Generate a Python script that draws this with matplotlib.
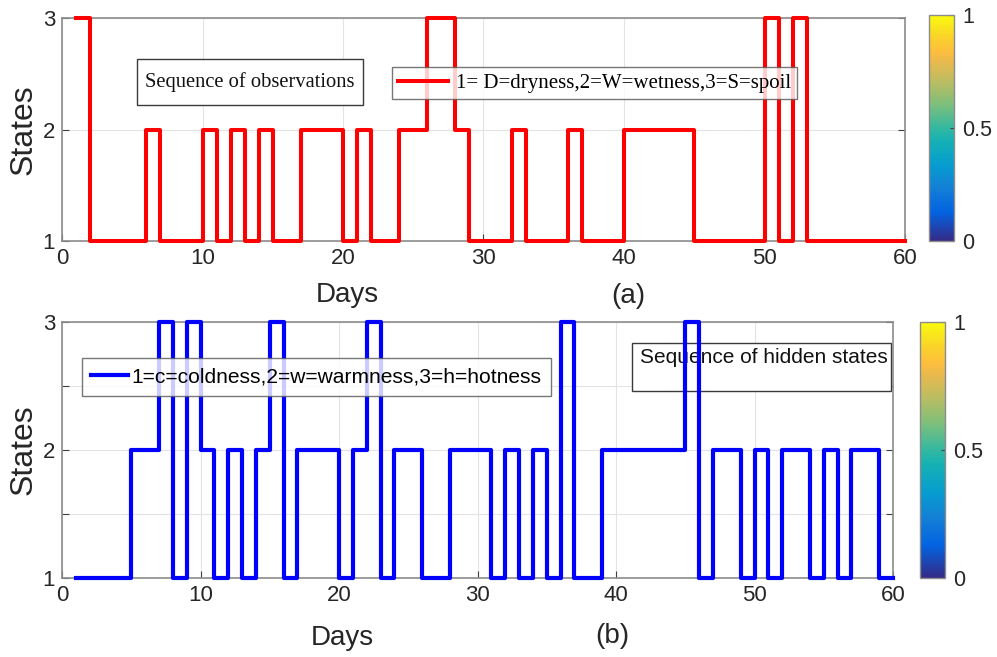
import numpy as np
import matplotlib
matplotlib.use("Agg")
import matplotlib.pyplot as plt
from matplotlib.colors import LinearSegmentedColormap, Normalize
from matplotlib.cm import ScalarMappable
from matplotlib.patches import Rectangle

# ---------------- data ----------------
days = list(range(1, 61))
observations = [3, 1, 1, 1, 1, 2, 1, 1, 1, 2,
                1, 2, 1, 2, 1, 1, 2, 2, 2, 1,
                2, 1, 1, 2, 2, 3, 3, 2, 1, 1,
                1, 2, 1, 1, 1, 2, 1, 1, 1, 2,
                2, 2, 2, 2, 1, 1, 1, 1, 1, 3,
                1, 3, 1, 1, 1, 1, 1, 1, 1, 1]
hidden_states = [1, 1, 1, 1, 2, 2, 3, 1, 3, 2,
                 1, 2, 1, 2, 3, 1, 2, 2, 2, 1,
                 2, 3, 1, 2, 2, 1, 1, 2, 2, 2,
                 1, 2, 1, 2, 1, 3, 1, 1, 2, 2,
                 2, 2, 2, 2, 3, 1, 2, 2, 1, 2,
                 1, 2, 2, 1, 2, 1, 2, 2, 1, 1]
xticks = [0, 10, 20, 30, 40, 50, 60]
obs_legend = "1= D=dryness,2=W=wetness,3=S=spoil"
hid_legend = "1=c=coldness,2=w=warmness,3=h=hotness"
obs_title = "Sequence of observations"
hid_title = "Sequence of hidden states"

parula_pts = [[0.2081, 0.1663, 0.5292], [0.0117, 0.3875, 0.8820],
              [0.0779, 0.5040, 0.8384], [0.0265, 0.6137, 0.8135],
              [0.0843, 0.6928, 0.7062], [0.1801, 0.7177, 0.6424],
              [0.4871, 0.7491, 0.4840], [0.7185, 0.7411, 0.3905],
              [0.9139, 0.7258, 0.3063], [0.9938, 0.7455, 0.2403],
              [0.9789, 0.8271, 0.1633], [0.9763, 0.9831, 0.0538]]
parula_pos = [0, 8, 15, 21, 28, 31, 38, 44, 50, 53, 57, 63]
parula = LinearSegmentedColormap.from_list(
    "parula", list(zip([p / 63 for p in parula_pos], parula_pts)))

# ---------------- styling ----------------
SANS = ['Liberation Sans', 'DejaVu Sans']
SERIF = ['Liberation Serif', 'DejaVu Serif']
spine_c = '#8c8c8c'
grid_c = '#e3e3e3'
txt_c = '#262626'

fig = plt.figure(figsize=(9.97, 6.57), dpi=100)

def style_axes(ax, yt, ylabels):
    ax.set_xlim(0, 60)
    ax.set_ylim(1, 3)
    ax.set_xticks(xticks)
    ax.set_xticklabels([str(t) for t in xticks], family=SANS, fontsize=16, color=txt_c)
    ax.set_yticks(yt)
    ax.set_yticklabels(ylabels, family=SANS, fontsize=16, color=txt_c)
    ax.tick_params(direction='in', length=5, color='#404040', width=0.8, pad=5,
                   top=False, right=True)
    ax.grid(True, color=grid_c, lw=0.8)
    ax.set_axisbelow(True)
    for s in ax.spines.values():
        s.set_color(spine_c)
        s.set_linewidth(1.2)
    ax.set_ylabel("States", family=SANS, fontsize=23, color=txt_c, labelpad=3)

def title_box(ax, x0, x1, y0, y1, tx, ty, s, family, size, z):
    ax.add_patch(Rectangle((x0, y0), x1 - x0, y1 - y0, transform=ax.transAxes,
                           fc='white', ec='#3a3a3a', lw=1.0, zorder=z, clip_on=False))
    ax.text(tx, ty, s, transform=ax.transAxes, family=family, fontsize=size,
            color='#111111', ha='left', va='center', zorder=z + 0.1)

# ---------- top panel ----------
ax1 = fig.add_axes([62 / 997, 1 - 241 / 657, 843 / 997, 223 / 657])
ax1.step(days, observations, where='post', color='#ff0000', lw=2.9,
         clip_on=False, zorder=3, label=obs_legend)
style_axes(ax1, [1, 2, 3], ['1', '2', '3'])
ax1.set_xlabel("Days", family=SANS, fontsize=20, color=txt_c)
ax1.xaxis.set_label_coords(0.339, -0.185)
fig.text(628 / 997, 1 - 296 / 657, "(a)", family=SANS, fontsize=20,
         color=txt_c, ha='center', va='center')
title_box(ax1, 0.089, 0.357, 0.610, 0.816, 0.0985, 0.712, obs_title, SERIF, 14.8, 5)
leg1 = ax1.legend(loc='upper left', bbox_to_anchor=(392 / 997, 1 - 67 / 657),
                  bbox_transform=fig.transFigure, prop={'family': SERIF, 'size': 15},
                  frameon=True, fancybox=False, handlelength=2.4, handletextpad=0.35,
                  borderpad=0.3, borderaxespad=0)
leg1.get_frame().set_edgecolor('#555555')
leg1.get_frame().set_linewidth(1.0)
leg1.set_zorder(7)

# ---------- bottom panel ----------
ax2 = fig.add_axes([62 / 997, 1 - 578 / 657, 831 / 997, 256 / 657])
ax2.step(days, hidden_states, where='post', color='#0000ff', lw=3.0,
         clip_on=False, zorder=3, label=hid_legend)
style_axes(ax2, [1, 1.5, 2, 2.5, 3], ['1', '', '2', '', '3'])
ax2.set_xlabel("Days", family=SANS, fontsize=20, color=txt_c)
ax2.xaxis.set_label_coords(0.337, -0.183)
fig.text(612 / 997, 1 - 636 / 657, "(b)", family=SANS, fontsize=20,
         color=txt_c, ha='center', va='center')
title_box(ax2, 0.686, 0.998, 0.730, 0.918, 0.6955, 0.860, hid_title, SANS, 15, 2.5)
leg2 = ax2.legend(loc='upper left', bbox_to_anchor=(82 / 997, 1 - 358 / 657),
                  bbox_transform=fig.transFigure, prop={'family': SANS, 'size': 15.1},
                  frameon=True, fancybox=False, handlelength=1.75, handletextpad=0.15,
                  borderpad=0.45, borderaxespad=0)
leg2.get_frame().set_edgecolor('#555555')
leg2.get_frame().set_linewidth(1.0)
leg2.set_zorder(7)

# ---------- colorbars ----------
for (x0, y0, y1) in [(929, 15, 241), (920, 322, 578)]:
    cax = fig.add_axes([x0 / 997, 1 - y1 / 657, 25 / 997, (y1 - y0) / 657])
    cb = fig.colorbar(ScalarMappable(norm=Normalize(0, 1), cmap=parula), cax=cax)
    cb.set_ticks([0, 0.5, 1])
    cb.set_ticklabels(['0', '0.5', '1'])
    cb.outline.set_edgecolor(spine_c)
    cb.outline.set_linewidth(1.0)
    cax.tick_params(direction='in', length=3, color='#404040', labelsize=15.5, pad=6)
    for lab in cax.get_yticklabels():
        lab.set_family(SANS)
        lab.set_color(txt_c)

fig.savefig("out.png", dpi=100)
